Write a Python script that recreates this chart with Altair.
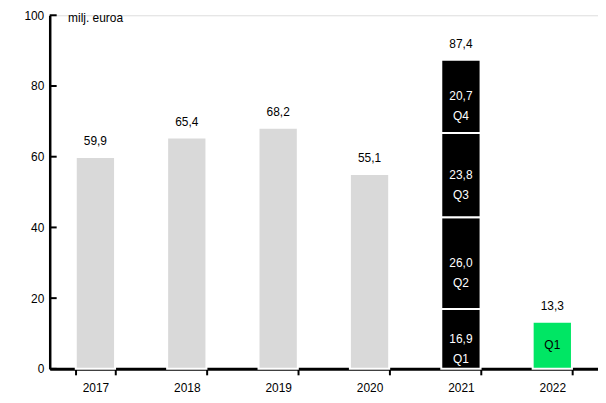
import altair as alt
import pandas as pd

years = ["2017", "2018", "2019", "2020", "2021", "2022"]
totals = [59.9, 65.4, 68.2, 55.1, 87.4, 13.3]
seg_year = ["2017", "2018", "2019", "2020", "2021", "2021", "2021", "2021", "2022"]
seg_value = [59.9, 65.4, 68.2, 55.1, 16.9, 26.0, 23.8, 20.7, 13.3]
seg_quarter = ["", "", "", "", "Q1", "Q2", "Q3", "Q4", "Q1"]
seg_order = [1, 1, 1, 1, 1, 2, 3, 4, 1]
seg_kind = ["year", "year", "year", "year", "q2021", "q2021", "q2021", "q2021", "q2022"]
y_ticks = [0, 20, 40, 60, 80, 100]

FONT = "Liberation Sans"


def fmt(v):
    return f"{v:.1f}".replace(".", ",")


rows = []
for y, v, q, o, k in zip(seg_year, seg_value, seg_quarter, seg_order, seg_kind):
    if k == "q2021":
        lab = f"{fmt(v)}\n{q}"
    elif k == "q2022":
        lab = q
    else:
        lab = ""
    rows.append({"year": y, "value": v, "quarter": q, "order": o, "kind": k, "label": lab})
seg = pd.DataFrame(rows)

# cumulative midpoints for in-bar labels
seg = seg.sort_values(["year", "order"])
seg["end"] = seg.groupby("year")["value"].cumsum()
seg["start"] = seg["end"] - seg["value"]
seg["mid"] = (seg["start"] + seg["end"]) / 2

tot = pd.DataFrame({"year": years, "total": totals, "label": [fmt(t) for t in totals]})
ticks = pd.DataFrame({"t": y_ticks})

x_enc = alt.X(
    "year:N",
    sort=years,
    scale=alt.Scale(paddingInner=0.57, paddingOuter=0.285),
    axis=alt.Axis(
        title=None,
        labelFont=FONT,
        labelFontSize=12,
        labelColor="#000",
        labelPadding=8,
        tickBand="extent",
        tickColor="#000",
        tickWidth=2,
        tickSize=6,
        domainColor="#000",
        domainWidth=3,
        labelAngle=0,
    ),
)

y_scale = alt.Scale(domain=[0, 100], nice=False)

bars = alt.Chart(seg).mark_bar(stroke="white", strokeWidth=2).encode(
    x=x_enc,
    y=alt.Y("start:Q", scale=y_scale,
            axis=alt.Axis(
                title="milj. euroa",
                titleAngle=0,
                titleX=18,
                titleY=2,
                titleAlign="left",
                titleBaseline="middle",
                titleFont=FONT,
                titleFontSize=12,
                titleFontWeight="normal",
                titleColor="#000",
                values=y_ticks,
                ticks=False,
                labelFont=FONT,
                labelFontSize=12,
                labelColor="#000",
                labelPadding=6,
                domainColor="#000",
                domainWidth=2.5,
                grid=False,
            )),
    y2="end:Q",
    color=alt.Color("kind:N",
                    scale=alt.Scale(domain=["year", "q2021", "q2022"],
                                    range=["#d9d9d9", "#000000", "#00e664"]),
                    legend=None),
)

inner = alt.Chart(seg).transform_filter("datum.label != ''").mark_text(
    font=FONT, fontSize=12, lineBreak="\n", lineHeight=20, baseline="middle", align="center"
).encode(
    x=alt.X("year:N", sort=years),
    y=alt.Y("mid:Q", scale=y_scale),
    text="label:N",
    color=alt.Color("kind:N",
                    scale=alt.Scale(domain=["year", "q2021", "q2022"],
                                    range=["#000000", "#ffffff", "#000000"]),
                    legend=None),
)

top = alt.Chart(tot).mark_text(
    font=FONT, fontSize=12, baseline="bottom", align="center", dy=-9, color="#000"
).encode(
    x=alt.X("year:N", sort=years),
    y=alt.Y("total:Q", scale=y_scale),
    text="label:N",
)

yt = alt.Chart(ticks).mark_rule(color="#000", strokeWidth=2).encode(
    y=alt.Y("t:Q", scale=y_scale),
    x=alt.value(0),
    x2=alt.value(7),
)

chart = alt.layer(bars, inner, top, yt).resolve_scale(color="independent").properties(
    width=552,
    height=356,
    autosize=alt.AutoSizeParams(type="none"),
    padding={"left": 42, "top": 6, "right": 0, "bottom": 25},
).configure_view(stroke=None).configure(background="white")

chart.save("out.html", embed_options={"renderer": "svg", "actions": False})
